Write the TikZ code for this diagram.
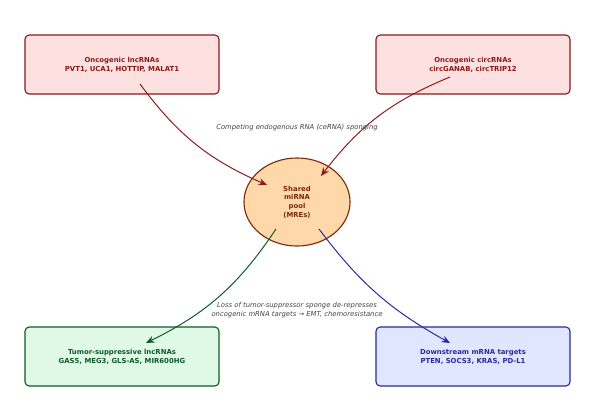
\documentclass[tikz,border=0pt]{standalone}
\usepackage{fontspec}
\setmainfont{DejaVu Sans}
\usepackage{xcolor}
\usetikzlibrary{shapes.geometric, arrows.meta, positioning, calc}

\definecolor{onco}{HTML}{8B1A1A}
\definecolor{oncofill}{HTML}{FDE0E0}
\definecolor{poolline}{HTML}{7A2A0C}
\definecolor{poolfill}{HTML}{FFD8AA}
\definecolor{supp}{HTML}{0F5A28}
\definecolor{suppfill}{HTML}{DFF9E6}
\definecolor{targ}{HTML}{2A2A9A}
\definecolor{targfill}{HTML}{E1E6FF}
\definecolor{note}{HTML}{444444}

\tikzset{
  rnabox/.style={draw, rounded corners=3pt, line width=0.8pt, minimum width=4.85cm,
    minimum height=1.475cm, align=center, font=\fontsize{4.9}{6.4}\selectfont\bfseries},
  notetext/.style={align=center, text=note, font=\fontsize{4.85}{6.4}\selectfont\itshape},
  sponge/.style={-{Stealth[length=6pt,width=5pt]}, line width=0.7pt}
}

\begin{document}
\begin{tikzpicture}[x=0.025cm, y=-0.025cm]
      \useasboundingbox (0,0) rectangle (595,404);

      % sources and targets
      \node[rnabox, fill=oncofill, draw=onco, text=onco] (lnc) at (122,64.5)
        {Oncogenic lncRNAs\\PVT1, UCA1, HOTTIP, MALAT1};
      \node[rnabox, fill=oncofill, draw=onco, text=onco] (circ) at (473,64.5)
        {Oncogenic circRNAs\\circGANAB, circTRIP12};
      \node[rnabox, fill=suppfill, draw=supp, text=supp] (supp) at (122,356.5)
        {Tumor-suppressive lncRNAs\\GAS5, MEG3, GLS-AS, MIR600HG};
      \node[rnabox, fill=targfill, draw=targ, text=targ] (targ) at (473,356.5)
        {Downstream mRNA targets\\PTEN, SOCS3, KRAS, PD-L1};

      % miRNA pool
      \node[ellipse, draw=poolline, fill=poolfill, line width=0.8pt, inner sep=0pt,
        minimum width=2.65cm, minimum height=2.2cm, align=center, text=poolline,
        font=\fontsize{4.9}{6.2}\selectfont\bfseries] (pool) at (297,202)
        {Shared\\miRNA\\pool\\(MREs)};

      \coordinate (lncout) at (140,84);
      \coordinate (lncin) at (267,185);
      \coordinate (circout) at (450,77);
      \coordinate (circin) at (321,176);
      \coordinate (suppout) at (276,229);
      \coordinate (suppin) at (146,343);
      \coordinate (targout) at (319,229);
      \coordinate (targin) at (450,343);

      \draw [sponge, onco] (lncout) to[bend right=15] (lncin);
      \draw [sponge, onco] (circout) to[bend right=15] (circin);
      \draw [sponge, supp] (suppout) to[bend left=15] (suppin);
      \draw [sponge, targ] (targout) to[bend right=12] (targin);

      % labels
      \node[notetext] (cerna) at (297,127.5) {Competing endogenous RNA (ceRNA) sponging};
      \node[notetext] (loss) at (297,310)
        {Loss of tumor-suppressor sponge de-represses\\oncogenic mRNA targets → EMT, chemoresistance};
    \end{tikzpicture}
\end{document}
